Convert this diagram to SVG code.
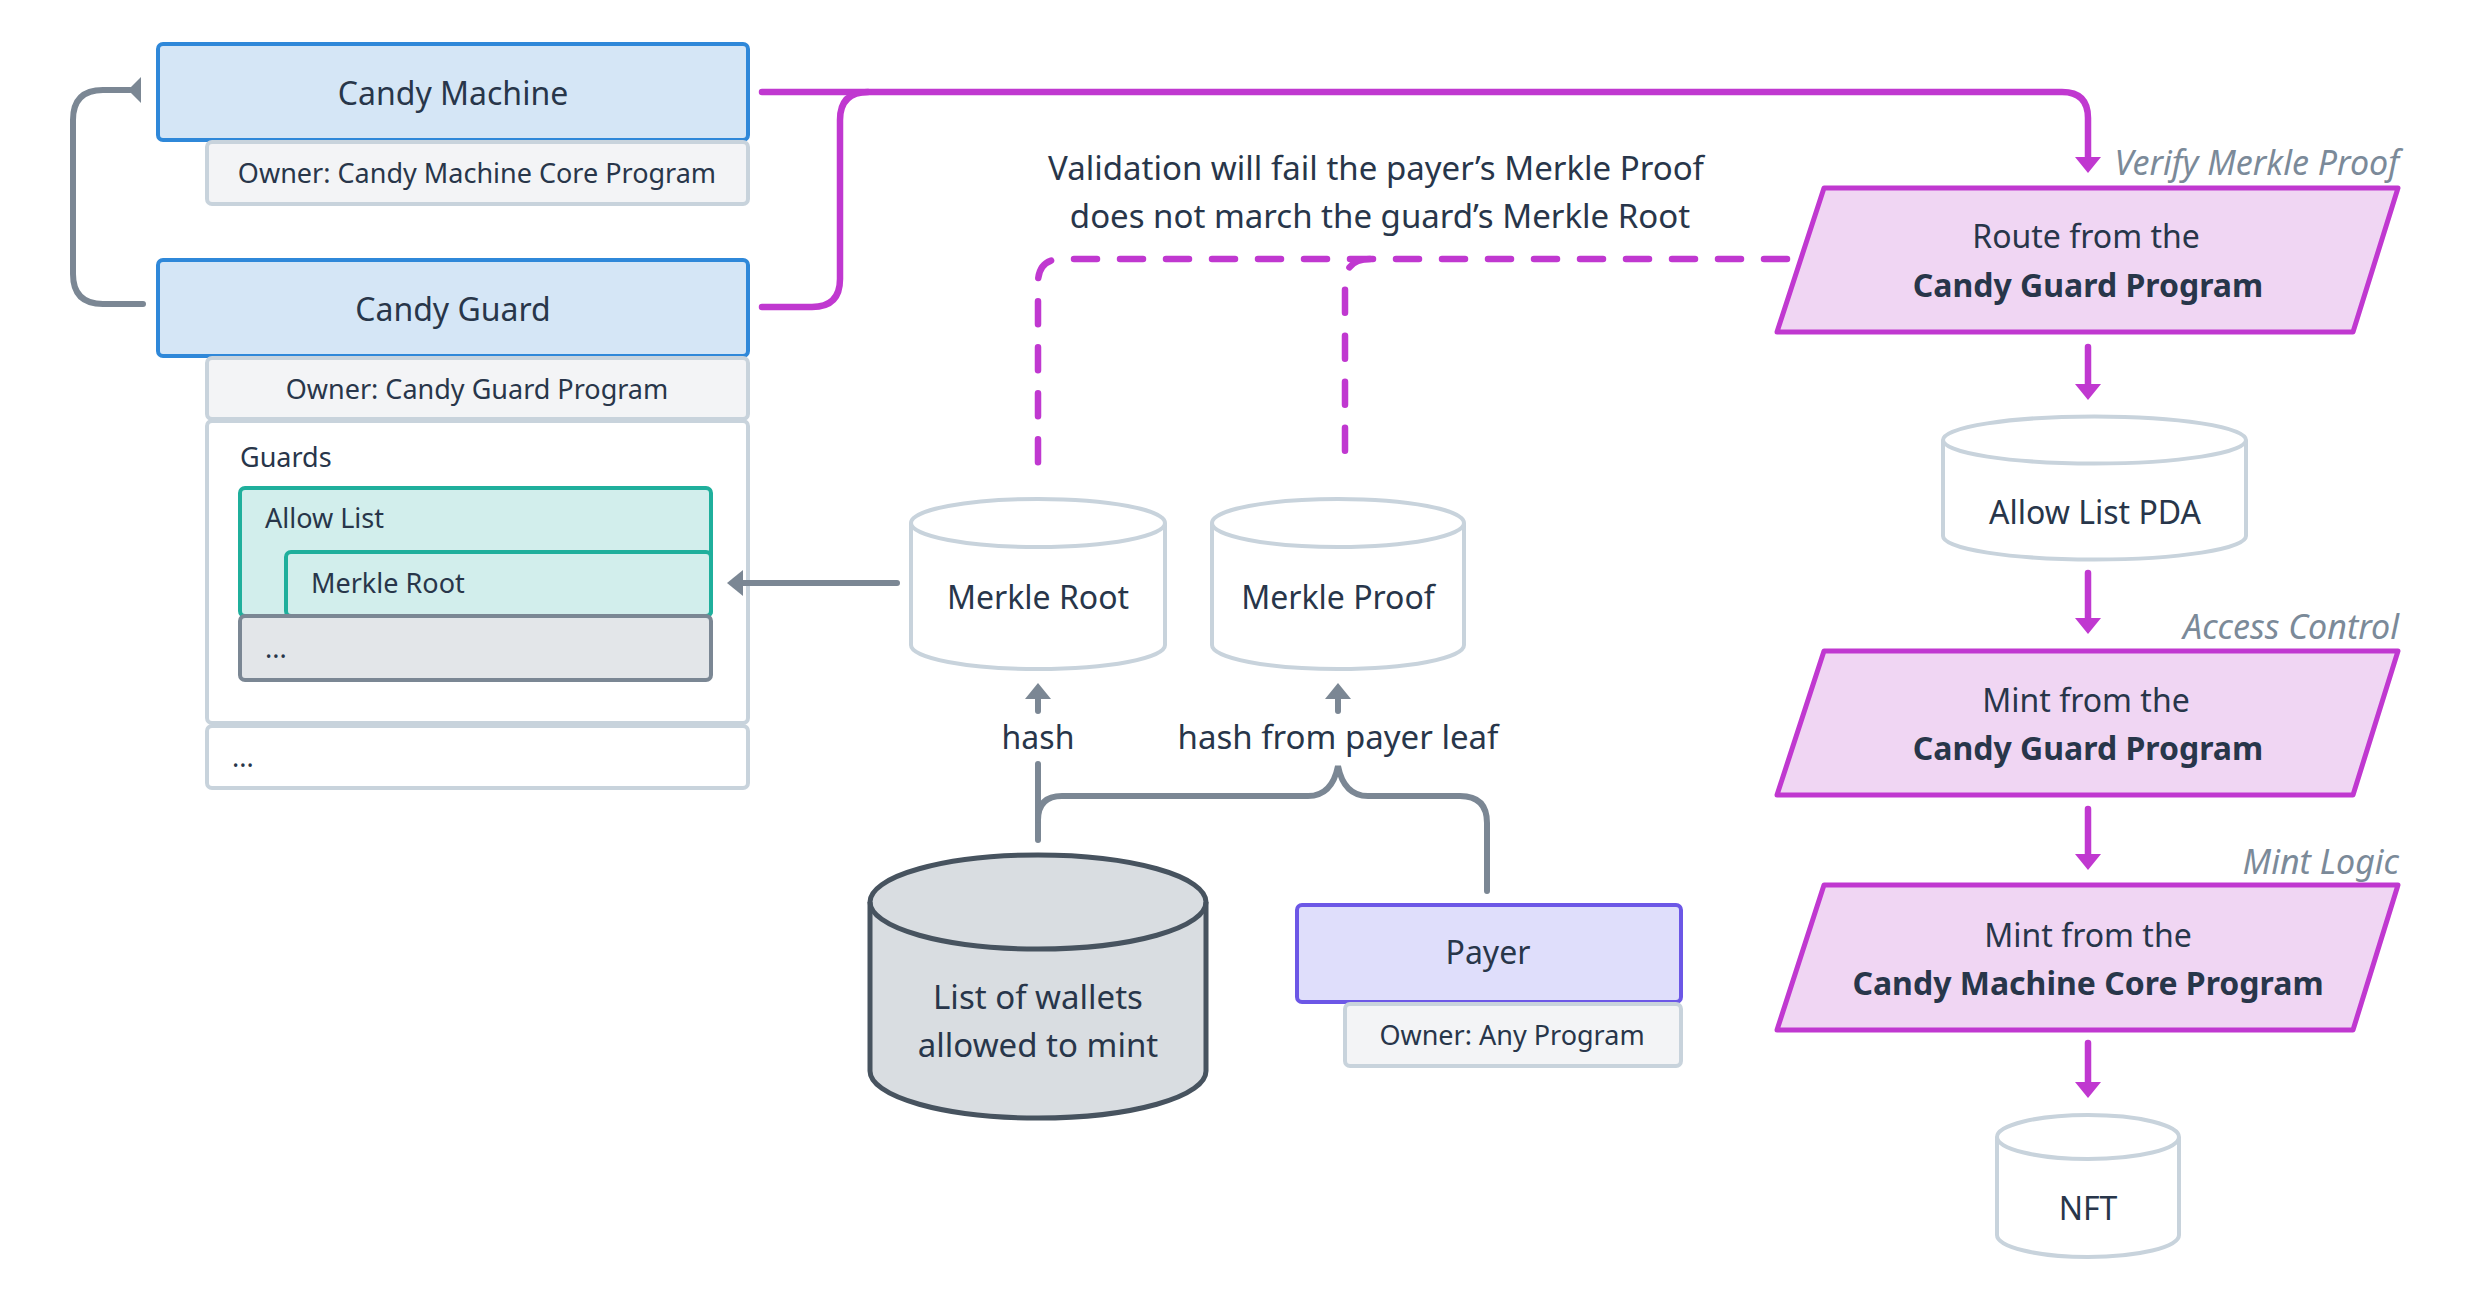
<svg xmlns="http://www.w3.org/2000/svg" width="2472" height="1296" viewBox="0 0 2472 1296">
<style>
text{font-family:"Noto Sans","DejaVu Sans",sans-serif;fill:#28364a}
.t32{font-size:32px}
.t33{font-size:33px}
.t27{font-size:27px}
.b32{font-size:32px;font-weight:bold}
.c{text-anchor:middle}
.lbl{font-size:34px;font-style:italic;fill:#7b8a99;text-anchor:end}
.acct{fill:#d5e6f6;stroke:#2f88d9;stroke-width:4}
.own{fill:#f3f4f6;stroke:#c8d3dc;stroke-width:4}
.plain{fill:#ffffff;stroke:#c8d3dc;stroke-width:4}
.teal{fill:#d2eeec;stroke:#1faf9c;stroke-width:4}
.gbox{fill:#e3e6e9;stroke:#7b8794;stroke-width:4}
.cyl{fill:#ffffff;stroke:#c8d3dc;stroke-width:4}
.para{fill:#f0d6f3;stroke:#c038d0;stroke-width:5;stroke-linejoin:round}
.mag{fill:none;stroke:#c038d0;stroke-width:6.5;stroke-linecap:round}
.dash{fill:none;stroke:#c038d0;stroke-width:6.5;stroke-linecap:round;stroke-dasharray:23 23}
.gray{fill:none;stroke:#7b8794;stroke-width:6;stroke-linecap:round}
</style>
<defs>
<marker id="am" viewBox="0 0 16 26" refX="8" refY="13" markerWidth="16" markerHeight="26" markerUnits="userSpaceOnUse" orient="auto"><path d="M0,0 L16,13 L0,26 Z" fill="#c038d0"/></marker>
<marker id="ag" viewBox="0 0 16 26" refX="8" refY="13" markerWidth="16" markerHeight="26" markerUnits="userSpaceOnUse" orient="auto"><path d="M0,0 L16,13 L0,26 Z" fill="#7b8794"/></marker>
</defs>

<g id="candy-machine">
<rect class="acct" x="158" y="44" width="590" height="96" rx="5"/>
<text class="t32 c" x="453" y="105">Candy Machine</text>
<rect class="own" x="207" y="142" width="541" height="62" rx="5"/>
<text class="t27 c" x="477" y="183">Owner: Candy Machine Core Program</text>
</g>

<g id="candy-guard">
<rect class="acct" x="158" y="260" width="590" height="96" rx="5"/>
<text class="t32 c" x="453" y="321">Candy Guard</text>
<rect class="own" x="207" y="358" width="541" height="61" rx="5"/>
<text class="t27 c" x="477" y="399">Owner: Candy Guard Program</text>
<rect class="plain" x="207" y="421" width="541" height="302" rx="5"/>
<text class="t27" x="240" y="467">Guards</text>
<rect class="teal" x="240" y="488" width="471" height="128" rx="5"/>
<text class="t27" x="265" y="528">Allow List</text>
<rect class="teal" x="286" y="552" width="425" height="64" rx="5"/>
<text class="t27" x="311" y="593">Merkle Root</text>
<rect class="gbox" x="240" y="616" width="471" height="64" rx="5"/>
<text class="t27" x="265" y="658">...</text>
<rect class="plain" x="207" y="726" width="541" height="62" rx="5"/>
<text class="t27" x="232" y="767">...</text>
</g>

<g id="merkle-root">
<path class="cyl" d="M911 523 A127 24 0 0 1 1165 523 V645 A127 24 0 0 1 911 645 Z"/>
<path class="cyl" d="M911 523 A127 24 0 0 0 1165 523" fill="none"/>
<text class="t32 c" x="1038" y="609">Merkle Root</text>
</g>

<g id="merkle-proof">
<path class="cyl" d="M1212 523 A126 24 0 0 1 1464 523 V645 A126 24 0 0 1 1212 645 Z"/>
<path class="cyl" d="M1212 523 A126 24 0 0 0 1464 523" fill="none"/>
<text class="t32 c" x="1338" y="609">Merkle Proof</text>
</g>

<g id="wallet-list">
<path d="M870 902 A168 47 0 0 1 1206 902 V1071 A168 47 0 0 1 870 1071 Z" fill="#d9dde1" stroke="#47535f" stroke-width="5"/>
<path d="M870 902 A168 47 0 0 0 1206 902" fill="none" stroke="#47535f" stroke-width="5"/>
<text class="t33 c" x="1038" y="1009">List of wallets</text>
<text class="t33 c" x="1038" y="1057">allowed to mint</text>
</g>

<g id="payer">
<rect x="1297" y="905" width="384" height="97" rx="5" fill="#dfdefb" stroke="#6c57e6" stroke-width="4"/>
<text class="t32 c" x="1488" y="964">Payer</text>
<rect class="own" x="1345" y="1004" width="336" height="62" rx="5"/>
<text class="t27 c" x="1512" y="1045">Owner: Any Program</text>
</g>

<g id="route">
<text class="lbl" x="2399" y="175">Verify Merkle Proof</text>
<polygon class="para" points="1824,188 2398,188 2353,332 1777,332"/>
<text class="t32 c" x="2086" y="248">Route from the</text>
<text class="b32 c" x="2088" y="297">Candy Guard Program</text>
</g>

<g id="allow-list-pda">
<path class="cyl" d="M1943 440 A151.5 23.5 0 0 1 2246 440 V536 A151.5 23.5 0 0 1 1943 536 Z"/>
<path class="cyl" d="M1943 440 A151.5 23.5 0 0 0 2246 440" fill="none"/>
<text class="t32 c" x="2095" y="524">Allow List PDA</text>
</g>

<g id="mint-guard">
<text class="lbl" x="2399" y="639">Access Control</text>
<polygon class="para" points="1824,651 2398,651 2353,795 1777,795"/>
<text class="t32 c" x="2086" y="712">Mint from the</text>
<text class="b32 c" x="2088" y="760">Candy Guard Program</text>
</g>

<g id="mint-core">
<text class="lbl" x="2399" y="874">Mint Logic</text>
<polygon class="para" points="1824,885 2398,885 2353,1030 1777,1030"/>
<text class="t32 c" x="2088" y="947">Mint from the</text>
<text class="b32 c" x="2088" y="995">Candy Machine Core Program</text>
</g>

<g id="nft">
<path class="cyl" d="M1997 1137 A91 22 0 0 1 2179 1137 V1235 A91 22 0 0 1 1997 1235 Z"/>
<path class="cyl" d="M1997 1137 A91 22 0 0 0 2179 1137" fill="none"/>
<text class="t32 c" x="2088" y="1220">NFT</text>
</g>

<g id="connectors">
<path class="gray" d="M143 304 H103 Q73 304 73 274 V120 Q73 90 103 90 H130"/>
<polygon points="128,90 141,77 141,103" fill="#7b8794"/>
<path class="mag" d="M762 92 H2062 Q2088 92 2088 118 V165" marker-end="url(#am)"/>
<path class="mag" d="M762 307 H812 Q840 307 840 279 V120 Q840 92 868 92"/>
<path class="dash" d="M1787 259 H1062 Q1038 259 1038 283 V473"/>
<path class="dash" d="M1370 259 Q1345 259 1345 284 V473"/>
<path class="gray" d="M897 583 H735" marker-end="url(#ag)"/>
<path class="gray" d="M1038 711 V691" marker-end="url(#ag)"/>
<path class="gray" d="M1338 711 V691" marker-end="url(#ag)"/>
<path class="gray" d="M1038 840 V764"/>
<path class="gray" d="M1038 820 Q1038 796 1062 796 H1308 Q1332 796 1338 766 Q1344 796 1368 796 H1460 Q1487 796 1487 823 V891"/>
<path class="mag" d="M2088 347 V392" marker-end="url(#am)"/>
<path class="mag" d="M2088 573 V626" marker-end="url(#am)"/>
<path class="mag" d="M2088 809 V862" marker-end="url(#am)"/>
<path class="mag" d="M2088 1043 V1090" marker-end="url(#am)"/>
<text class="t33 c" x="1376" y="180">Validation will fail the payer’s Merkle Proof</text>
<text class="t33 c" x="1380" y="228">does not march the guard’s Merkle Root</text>
<text class="t32 c" x="1038" y="749">hash</text>
<text class="t33 c" x="1338" y="749">hash from payer leaf</text>
</g>
</svg>
